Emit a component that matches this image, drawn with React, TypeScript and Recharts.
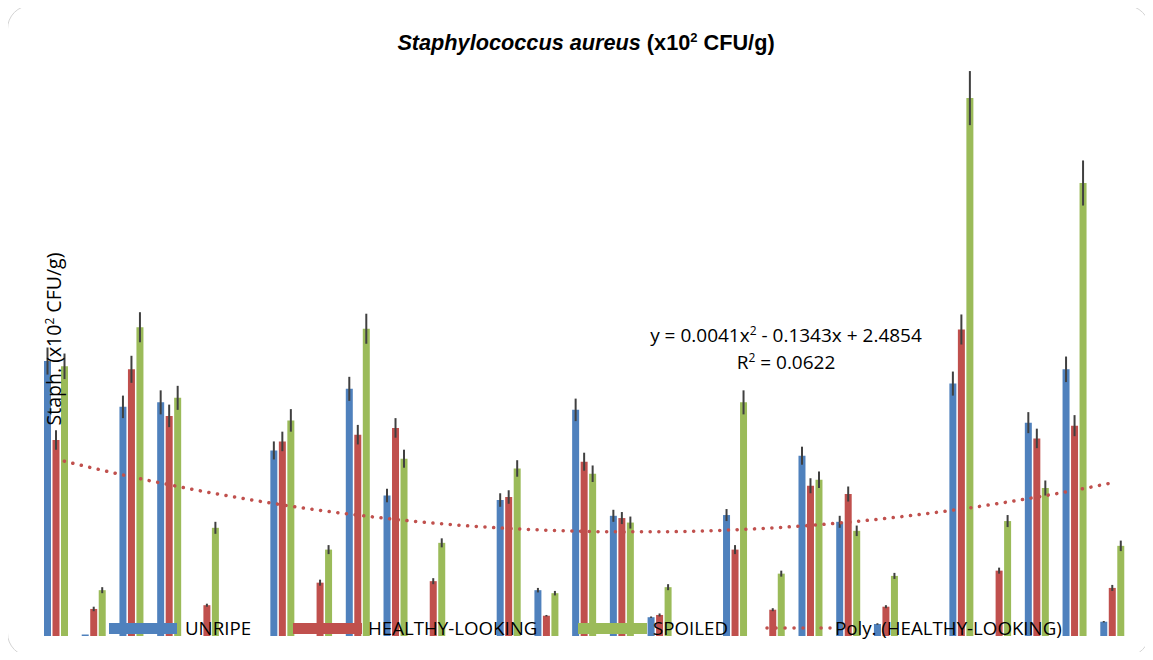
import React from 'react';
import { ComposedChart, Bar, Line, XAxis, YAxis, ErrorBar } from 'recharts';

const categories = ['1','2','3','4','5','6','7','8','9','10','11','12','13','14','15','16','17','18','19','20','21','22','23','24','25','26','27','28','29'];
const unripe = [3.66,0.02,3.05,3.11,0,0,2.47,0,3.29,1.87,0,0,1.81,0.61,3.01,1.60,0.25,0,1.61,0,2.40,1.52,0.16,0,3.36,0,2.84,3.55,0.19];
const healthy = [2.61,0.36,3.55,2.93,0.41,0,2.59,0.71,2.68,2.77,0.73,0,1.85,0.27,2.32,1.57,0.28,0,1.15,0.35,2.00,1.89,0.39,0,4.08,0.87,2.63,2.80,0.64];
const spoiled = [3.59,0.61,4.11,3.17,1.44,0,2.87,1.15,4.09,2.36,1.24,0,2.23,0.57,2.16,1.51,0.65,0,3.11,0.83,2.08,1.40,0.80,0,7.16,1.53,1.97,6.03,1.20];
const unripeErr = [0.18,0,0.15,0.16,0,0,0.12,0,0.16,0.09,0,0,0.09,0.03,0.15,0.08,0.01,0,0.08,0,0.12,0.08,0.01,0,0.16,0,0.14,0.17,0.01];
const healthyErr = [0.13,0.03,0.18,0.15,0.02,0,0.13,0.04,0.13,0.13,0.04,0,0.09,0.01,0.12,0.08,0.02,0,0.06,0.02,0.10,0.10,0.02,0,0.20,0.04,0.13,0.14,0.04];
const spoiledErr = [0.17,0.04,0.20,0.16,0.08,0,0.15,0.06,0.20,0.12,0.06,0,0.11,0.03,0.11,0.08,0.04,0,0.16,0.04,0.11,0.07,0.04,0,0.36,0.08,0.10,0.30,0.07];
// Polynomial trendline of HEALTHY-LOOKING (y = 0.0041x² - 0.1343x + 2.4854), values per category
const trend = [2.355,2.233,2.119,2.014,1.916,1.827,1.746,1.673,1.609,1.552,1.504,1.464,1.432,1.409,1.393,1.386,1.387,1.396,1.414,1.439,1.473,1.515,1.565,1.624,1.690,1.765,1.848,1.939,2.039];

const seriesNames = ['UNRIPE', 'HEALTHY-LOOKING', 'SPOILED', 'Poly. (HEALTHY-LOOKING)'];
const BLUE = '#4F81BD';
const RED = '#C0504D';
const GREEN = '#9BBB59';
const ERR = '#404040';

const data = categories.map((c, i) => ({
  cat: c,
  unripe: unripe[i],
  healthy: healthy[i],
  spoiled: spoiled[i],
  uErr: unripeErr[i],
  hErr: healthyErr[i],
  sErr: spoiledErr[i],
  trend: trend[i],
}));

const FONT = '"Open Sans", "DejaVu Sans", sans-serif';

export default function App() {
  return (
    <div style={{ position: 'relative', width: 1153, height: 660, margin: -8, background: '#fff', overflow: 'hidden' }}>
      <div style={{ position: 'absolute', left: 7, top: 5, width: 1141, height: 650, border: '1.5px solid #d4d4d4', borderRadius: 24 }} />
      <div style={{ position: 'absolute', left: 0, top: 0 }}>
        <ComposedChart width={1153} height={660} data={data} margin={{ top: 35, right: 22, bottom: 24, left: 37 }} barSize={7} barGap={1.5}>
          <XAxis dataKey="cat" hide />
          <YAxis hide domain={[0, 8]} />
          <Bar dataKey="unripe" fill={BLUE} isAnimationActive={false}>
            <ErrorBar dataKey="uErr" width={0} stroke={ERR} strokeWidth={2} />
          </Bar>
          <Bar dataKey="healthy" fill={RED} isAnimationActive={false}>
            <ErrorBar dataKey="hErr" width={0} stroke={ERR} strokeWidth={2} />
          </Bar>
          <Bar dataKey="spoiled" fill={GREEN} isAnimationActive={false}>
            <ErrorBar dataKey="sErr" width={0} stroke={ERR} strokeWidth={2} />
          </Bar>
          <Line dataKey="trend" type="monotone" stroke={RED} strokeWidth={3.5} strokeDasharray="0.1 8.6" strokeLinecap="round" dot={false} activeDot={false} isAnimationActive={false} />
        </ComposedChart>
      </div>
      <svg width={1153} height={660} style={{ position: 'absolute', left: 0, top: 0, pointerEvents: 'none' }}>
        <text x={586} y={50} textAnchor="middle" fontFamily='"Liberation Sans", Arial, sans-serif' fontWeight="bold" fontSize={21.7} fill="#000">
          <tspan fontStyle="italic">Staphylococcus aureus</tspan>
          <tspan> (x10</tspan>
          <tspan fontSize={13} dy={-8}>2</tspan>
          <tspan dy={8}> CFU/g)</tspan>
        </text>
        <text x={786} y={342} textAnchor="middle" fontFamily={FONT} fontSize={19} fill="#000">
          <tspan>y = 0.0041x</tspan>
          <tspan fontSize={12} dy={-7}>2</tspan>
          <tspan dy={7}> - 0.1343x + 2.4854</tspan>
        </text>
        <text x={786} y={369} textAnchor="middle" fontFamily={FONT} fontSize={19} fill="#000">
          <tspan>R</tspan>
          <tspan fontSize={12} dy={-7}>2</tspan>
          <tspan dy={7}> = 0.0622</tspan>
        </text>
        <text transform="translate(61,339) rotate(-90)" textAnchor="middle" fontFamily={FONT} fontSize={19.5} fill="#000">
          <tspan>Staph. (x10</tspan>
          <tspan fontSize={12} dy={-7}>2</tspan>
          <tspan dy={7}> CFU/g)</tspan>
        </text>
        <rect x={109} y={623} width={68} height={11} fill={BLUE} />
        <text x={185} y={635} fontFamily={FONT} fontSize={18.7} fill="#000">{seriesNames[0]}</text>
        <rect x={293} y={623} width={69} height={11} fill={RED} />
        <text x={368} y={635} fontFamily={FONT} fontSize={18.7} fill="#000">{seriesNames[1]}</text>
        <rect x={578} y={623} width={69} height={11} fill={GREEN} />
        <text x={653} y={635} fontFamily={FONT} fontSize={18.7} fill="#000">{seriesNames[2]}</text>
        <line x1={767} y1={628} x2={830} y2={628} stroke={RED} strokeWidth={3.5} strokeDasharray="0.1 8.9" strokeLinecap="round" />
        <text x={835} y={635} fontFamily={FONT} fontSize={18.7} fill="#000">{seriesNames[3]}</text>
      </svg>
    </div>
  );
}
